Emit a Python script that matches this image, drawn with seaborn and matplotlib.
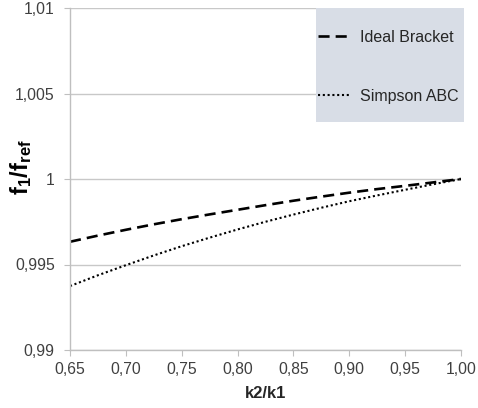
import matplotlib
matplotlib.use("Agg")
import matplotlib.pyplot as plt
from matplotlib.patches import Rectangle
import seaborn as sns
import pandas as pd

# ---- data ----
k_ratio = [0.65, 0.675, 0.70, 0.725, 0.75, 0.775, 0.80, 0.825, 0.85, 0.875,
           0.90, 0.925, 0.95, 0.975, 1.00]
ideal_bracket = [0.99633, 0.99669, 0.99703, 0.99735, 0.99765, 0.99793, 0.99820,
                 0.99847, 0.99873, 0.99897, 0.99920, 0.99941, 0.99960, 0.99980, 1.00000]
simpson_abc = [0.99374, 0.99437, 0.99496, 0.99553, 0.99607, 0.99657, 0.99705,
               0.99750, 0.99792, 0.99832, 0.99870, 0.99904, 0.99937, 0.99969, 1.00000]
series_names = ["Ideal Bracket", "Simpson ABC"]
x_ticks = [0.65, 0.70, 0.75, 0.80, 0.85, 0.90, 0.95, 1.00]
x_tick_labels = ["0,65", "0,70", "0,75", "0,80", "0,85", "0,90", "0,95", "1,00"]
y_ticks = [0.99, 0.995, 1.0, 1.005, 1.01]
y_tick_labels = ["0,99", "0,995", "1", "1,005", "1,01"]

sns.set_style("white")
plt.rcParams["font.family"] = ["Liberation Sans", "DejaVu Sans"]
plt.rcParams["mathtext.fontset"] = "custom"
plt.rcParams["mathtext.rm"] = "Liberation Sans"
plt.rcParams["mathtext.bf"] = "Liberation Sans:bold"

W, H = 478, 408
fig = plt.figure(figsize=(W / 100, H / 100), dpi=100)
ax = fig.add_axes([70 / W, 1 - 350 / H, 391 / W, 342 / H])

df = pd.DataFrame({"k": k_ratio, "ideal": ideal_bracket, "simpson": simpson_abc})
sns.lineplot(data=df, x="k", y="ideal", ax=ax, color="black", linewidth=1.9,
             label=series_names[0])
ax.lines[-1].set_dashes((4.2, 2.3))
sns.lineplot(data=df, x="k", y="simpson", ax=ax, color="black", linewidth=1.5,
             label=series_names[1])
ax.lines[-1].set_dashes((1.0, 1.3))

ax.set_xlim(0.65, 1.00)
ax.set_ylim(0.99, 1.01)
ax.set_xticks(x_ticks)
ax.set_xticklabels(x_tick_labels)
ax.set_yticks(y_ticks)
ax.set_yticklabels(y_tick_labels)
ax.yaxis.grid(True, color="#c8c8c8", linewidth=1.0)
ax.xaxis.grid(False)
for s in ["top", "right"]:
    ax.spines[s].set_visible(False)
for s in ["left", "bottom"]:
    ax.spines[s].set_color("#bfbfbf")
    ax.spines[s].set_linewidth(1.0)
ax.tick_params(axis="both", which="major", direction="out", length=4,
               color="#bfbfbf", labelsize=11.3, labelcolor="#404040")
ax.tick_params(axis="x", pad=5, bottom=True)
ax.tick_params(axis="y", pad=7, left=True)
ax.set_xlabel("")
ax.set_ylabel("")

handles, labels = ax.get_legend_handles_labels()
ax.get_legend().remove()

fig.add_artist(Rectangle((316 / W, 1 - 122 / H), 148 / W, 114 / H,
                         transform=fig.transFigure, facecolor="#d8dde6",
                         edgecolor="none", zorder=1))
fig.legend(handles, labels, loc="upper left",
           bbox_to_anchor=(318 / W, 1 - 30 / H), frameon=False,
           fontsize=11.5, labelspacing=2.75, handlelength=2.0,
           handletextpad=0.6, borderpad=0, borderaxespad=0)

fig.text(266 / W, 1 - 393 / H, "k2/k1", ha="center", va="center",
         fontsize=12, fontweight="bold", color="#262626")
fig.text(21 / W, 1 - 167 / H, r"$\mathbf{f_1/f_{ref}}$", ha="center", va="center",
         rotation=90, fontsize=17, color="black")

fig.savefig("out.png", dpi=100)
